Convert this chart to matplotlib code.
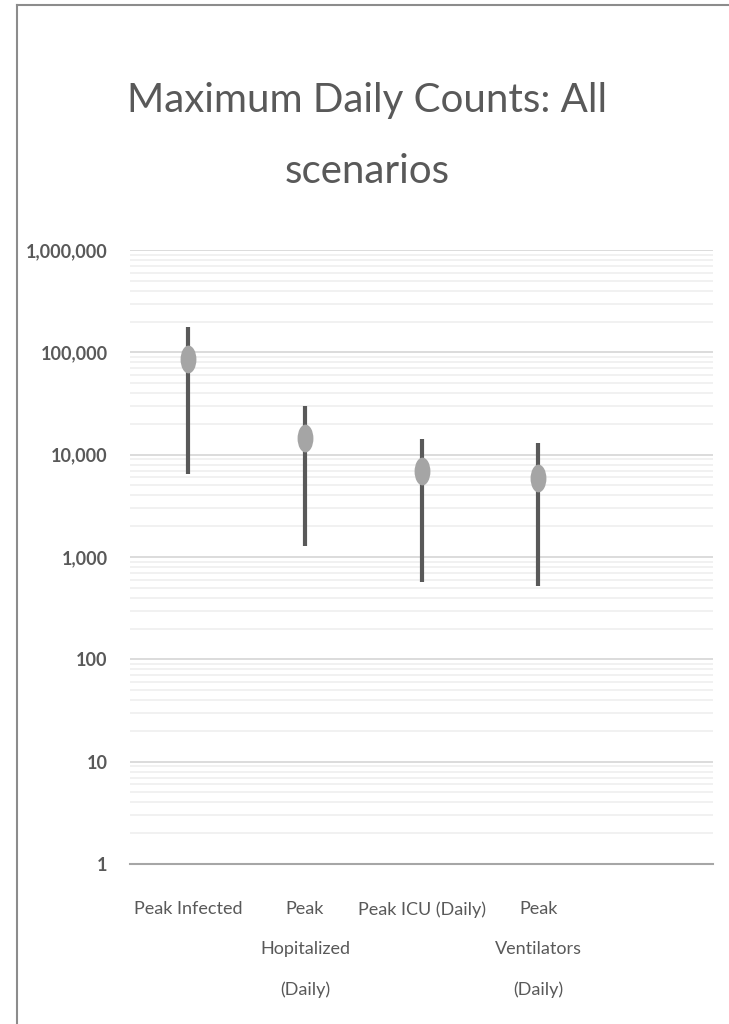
import matplotlib.pyplot as plt
from matplotlib.lines import Line2D
from matplotlib.markers import MarkerStyle
from matplotlib.transforms import Affine2D
from matplotlib.ticker import FixedLocator, LogLocator, NullFormatter

categories = ["Peak Infected", "Peak\nHopitalized\n(Daily)", "Peak ICU (Daily)",
              "Peak\nVentilators\n(Daily)", ""]
mid_values = [87000, 14500, 6900, 5900]
high_values = [176000, 29700, 14100, 12900]
low_values = [6450, 1270, 565, 525]
y_ticks = [1, 10, 100, 1000, 10000, 100000, 1000000]
y_tick_labels = ["1", "10", "100", "1,000", "10,000", "100,000", "1,000,000"]

FONT = ["Lato", "DejaVu Sans"]
TEXT = "#595959"

fig = plt.figure(figsize=(7.29, 10.24), dpi=100)
ax = fig.add_axes([130 / 729, 1 - 864 / 1024, 583 / 729, 614 / 1024])

xpos = list(range(len(categories)))
n = len(mid_values)
yerr = [[mid_values[i] - low_values[i] for i in range(n)],
        [high_values[i] - mid_values[i] for i in range(n)]]
ax.errorbar(xpos[:n], mid_values, yerr=yerr, fmt="none", ecolor="#595959",
            elinewidth=3.0, capsize=0, zorder=3)
oval = MarkerStyle("o", transform=Affine2D().scale(0.57, 1.0))
ax.plot(xpos[:n], mid_values, linestyle="none", marker=oval, markersize=20,
        color="#A5A5A5", markeredgewidth=0, zorder=4)

ax.set_yscale("log")
ax.set_ylim(1, 1e6)
ax.set_xlim(-0.5, len(categories) - 0.5)

ax.yaxis.set_major_locator(FixedLocator(y_ticks))
ax.set_yticklabels(y_tick_labels)
ax.yaxis.set_minor_locator(LogLocator(base=10, subs=range(2, 10), numticks=20))
ax.yaxis.set_minor_formatter(NullFormatter())
ax.grid(True, which="major", axis="y", color="#D9D9D9", linewidth=1.3)
ax.grid(True, which="minor", axis="y", color="#F0F0F0", linewidth=1.3)
ax.set_axisbelow(True)

ax.set_xticks(xpos)
ax.set_xticklabels(categories, linespacing=2.8, va="top")
ax.tick_params(axis="both", which="both", length=0)
ax.tick_params(axis="x", pad=27)
ax.tick_params(axis="y", pad=16)
for lbl in ax.get_xticklabels():
    lbl.set_fontfamily(FONT)
    lbl.set_fontsize(13)
    lbl.set_color(TEXT)
for lbl in ax.get_yticklabels():
    lbl.set_fontfamily(FONT)
    lbl.set_fontsize(13)
    lbl.set_fontweight("bold")
    lbl.set_color(TEXT)

for side in ["left", "right", "top"]:
    ax.spines[side].set_visible(False)
ax.spines["bottom"].set_color("#A6A6A6")
ax.spines["bottom"].set_linewidth(1.5)

fig.text(0.5 + 3 / 729, 1 - 136 / 1024, "Maximum Daily Counts: All\nscenarios",
         ha="center", va="center", fontsize=29, color=TEXT, family=FONT,
         fontweight="normal", linespacing=2.15)

# chart frame (left and top edges only)
fig.add_artist(Line2D([17 / 729, 17 / 729], [0, 1 - 5 / 1024], color="#8C8C8C",
                      linewidth=1.5))
fig.add_artist(Line2D([17 / 729, 1], [1 - 5 / 1024, 1 - 5 / 1024],
                      color="#8C8C8C", linewidth=1.5))

fig.savefig("out.png", dpi=100)
